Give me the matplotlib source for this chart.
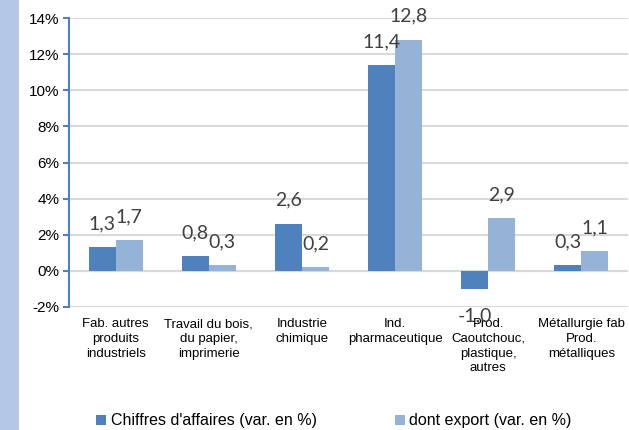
import matplotlib
matplotlib.use("Agg")
import matplotlib.pyplot as plt
import numpy as np
from matplotlib.patches import Rectangle
from matplotlib.ticker import FuncFormatter

categories = [
    "Fab. autres\nproduits\nindustriels",
    "Travail du bois,\ndu papier,\nimprimerie",
    "Industrie\nchimique",
    "Ind.\npharmaceutique",
    "Prod.\nCaoutchouc,\nplastique,\nautres",
    "Métallurgie fab\nProd.\nmétalliques",
]
chiffres = [1.3, 0.8, 2.6, 11.4, -1.0, 0.3]
export = [1.7, 0.3, 0.2, 12.8, 2.9, 1.1]
series_names = ["Chiffres d'affaires (var. en %)", "dont export (var. en %)"]
yticks = [-2, 0, 2, 4, 6, 8, 10, 12, 14]

dark = "#4f81bd"
light = "#95b3d7"
label_col = "#404040"

plt.rcParams["font.family"] = ["Liberation Sans", "DejaVu Sans"]

fig = plt.figure(figsize=(6.29, 4.30), dpi=100)
# side strip
fig.patches.append(Rectangle((0, 0), 19 / 629, 1, transform=fig.transFigure,
                             facecolor="#b4c7e7", edgecolor="none", zorder=0))

ax = fig.add_axes([69 / 629, 1 - 307 / 430, (628 - 69) / 629, (307 - 18) / 430])
x = np.arange(len(categories))
w = 0.29
b1 = ax.bar(x - w / 2, chiffres, w, color=dark, zorder=3, label=series_names[0])
b2 = ax.bar(x + w / 2, export, w, color=light, zorder=3, label=series_names[1])

ax.set_xlim(-0.5, len(categories) - 0.5)
ax.set_ylim(-2, 14)
ax.set_yticks(yticks)
ax.yaxis.set_major_formatter(FuncFormatter(lambda v, p: f"{int(v)}%"))
ax.grid(axis="y", color="#d9d9d9", linewidth=1.5, zorder=0)
ax.axhline(0, color="#d9d9d9", linewidth=1.5, zorder=1)

for s in ["top", "right", "bottom"]:
    ax.spines[s].set_visible(False)
ax.spines["left"].set_color(dark)
ax.spines["left"].set_linewidth(1.5)
ax.tick_params(axis="y", colors=dark, length=4, width=1.5, labelsize=11,
               labelcolor="black", pad=3)
ax.set_xticks(x)
ax.set_xticklabels(categories, fontsize=9.5, linespacing=1.3)
ax.tick_params(axis="x", length=0, pad=8)

for bars, vals in ((b1, chiffres), (b2, export)):
    for bar, v in zip(bars, vals):
        cx = bar.get_x() + bar.get_width() / 2
        txt = f"{v:.1f}".replace(".", ",")
        dy = 13 if v >= 0 else -23
        ax.annotate(txt, (cx, v), xytext=(0, dy), textcoords="offset points",
                    ha="center", va="baseline", fontsize=14, color=label_col,
                    family=["Lato", "DejaVu Sans"], zorder=5)

fig.legend(handles=[b1, b2], labels=series_names, loc="center",
           bbox_to_anchor=(0.531, 1 - 421 / 430), ncol=2, frameon=False,
           fontsize=11.5, handlelength=0.6, handleheight=0.6, handletextpad=0.3,
           columnspacing=4.9)

fig.savefig("out.png", dpi=100)
